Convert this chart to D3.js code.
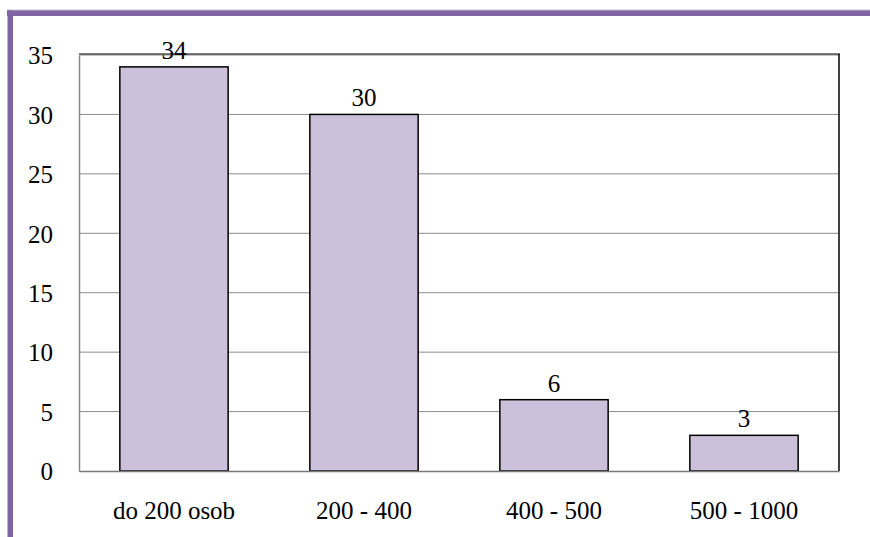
<!DOCTYPE html>
<html>
<head>
<meta charset="utf-8">
<script src="https://cdn.jsdelivr.net/npm/d3@7"></script>
<style>
  body { margin: 0; background: #fff; }
</style>
</head>
<body>
<div id="chart"></div>
<script>
var categories = ["do 200 osob", "200 - 400", "400 - 500", "500 - 1000"];
var values = [34, 30, 6, 3];
var yTicks = [0, 5, 10, 15, 20, 25, 30, 35];

var width = 870, height = 537;
var plotLeft = 79, plotRight = 839, plotTop = 55, plotBottom = 471;
var fontFamily = "Liberation Serif";
var fontSize = 25;

var svg = d3.select("#chart")
    .append("svg")
    .attr("width", width)
    .attr("height", height)
    .attr("font-family", fontFamily);

// purple frame (top and left edges)
svg.append("rect")
    .attr("x", 7).attr("y", 9.5)
    .attr("width", width - 7).attr("height", 1.5)
    .attr("fill", "#c9bcdc");
svg.append("rect")
    .attr("x", 7).attr("y", 10.5)
    .attr("width", width - 7).attr("height", 5.5)
    .attr("fill", "#8064a2");
svg.append("rect")
    .attr("x", 7.5).attr("y", 10.5)
    .attr("width", 5.5).attr("height", height - 10)
    .attr("fill", "#8064a2");

var x = d3.scaleBand()
    .domain(categories)
    .range([plotLeft, plotRight])
    .paddingInner(0.43)
    .paddingOuter(0.215);

var y = d3.scaleLinear()
    .domain([0, 35])
    .range([plotBottom, plotTop]);

// gridlines
svg.append("g")
    .selectAll("line")
    .data(yTicks.filter(function (d) { return d > 0; }))
    .join("line")
    .attr("x1", plotLeft).attr("x2", plotRight)
    .attr("y1", function (d) { return y(d); })
    .attr("y2", function (d) { return y(d); })
    .attr("stroke", "#8c8c8c")
    .attr("stroke-width", 1);

// plot border: top and right darker
svg.append("line")
    .attr("x1", plotLeft).attr("x2", plotRight + 1)
    .attr("y1", plotTop - 1).attr("y2", plotTop - 1)
    .attr("stroke", "#000").attr("stroke-width", 1.2);
svg.append("line")
    .attr("x1", plotRight).attr("x2", plotRight)
    .attr("y1", plotTop - 1).attr("y2", plotBottom)
    .attr("stroke", "#000").attr("stroke-width", 1.5);

// bars
svg.append("g")
    .selectAll("rect")
    .data(values)
    .join("rect")
    .attr("x", function (d, i) { return x(categories[i]); })
    .attr("y", function (d) { return y(d); })
    .attr("width", x.bandwidth())
    .attr("height", function (d) { return y(0) - y(d); })
    .attr("fill", "#ccc1da")
    .attr("stroke", "#000")
    .attr("stroke-width", 1.5);

// value labels
svg.append("g")
    .selectAll("text")
    .data(values)
    .join("text")
    .attr("x", function (d, i) { return x(categories[i]) + x.bandwidth() / 2; })
    .attr("y", function (d) { return y(d) - 8; })
    .attr("text-anchor", "middle")
    .attr("font-family", fontFamily)
    .attr("font-size", fontSize)
    .attr("fill", "#000")
    .text(function (d) { return d; });

// y axis
var yAxis = svg.append("g")
    .attr("transform", "translate(" + plotLeft + ",0)")
    .call(d3.axisLeft(y).tickValues(yTicks).tickSize(0).tickPadding(26));
yAxis.attr("font-family", fontFamily).attr("font-size", fontSize);
yAxis.select(".domain").attr("stroke", "#888").attr("stroke-width", 1.5);
yAxis.selectAll("text")
    .attr("font-family", fontFamily)
    .attr("font-size", fontSize)
    .attr("fill", "#000")
    .attr("dy", "0.35em");

// x axis
var xAxis = svg.append("g")
    .attr("transform", "translate(0," + plotBottom + ")")
    .call(d3.axisBottom(x).tickSize(0).tickPadding(30));
xAxis.attr("font-family", fontFamily).attr("font-size", fontSize);
xAxis.select(".domain").attr("stroke", "#777").attr("stroke-width", 1.5);
xAxis.selectAll("text")
    .attr("font-family", fontFamily)
    .attr("font-size", fontSize)
    .attr("fill", "#000");
</script>
</body>
</html>
